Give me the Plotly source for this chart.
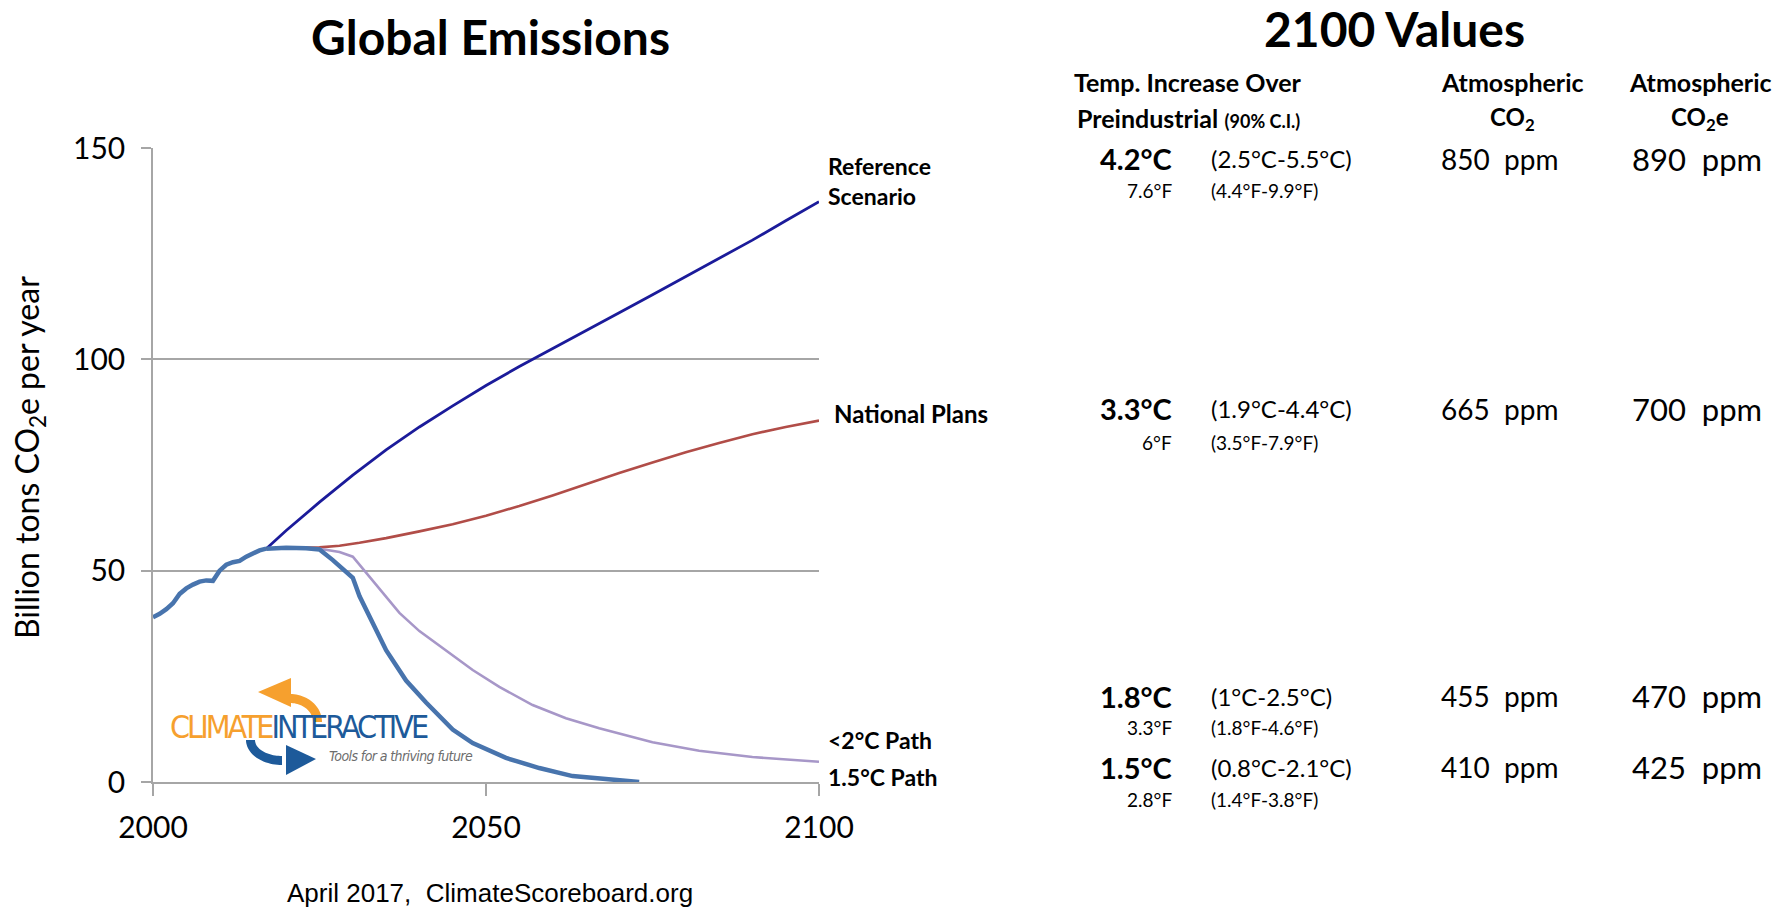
import plotly.graph_objects as go

W, H = 1782, 907

# ---------------- data ----------------
hist_years = list(range(2000, 2018))
hist_vals = [39.0, 39.8, 40.9, 42.3, 44.5, 45.8, 46.7, 47.4, 47.7, 47.6,
             50.0, 51.4, 52.0, 52.3, 53.3, 54.0, 54.8, 55.2]

ref_years = [2017, 2020, 2025, 2030, 2035, 2040, 2045, 2050, 2055, 2060,
             2065, 2070, 2075, 2080, 2085, 2090, 2095, 2100]
ref_vals = [55.2, 59.5, 66.2, 72.6, 78.6, 84.0, 89.0, 93.8, 98.3, 102.5,
            106.8, 111.0, 115.3, 119.6, 123.8, 128.2, 132.8, 137.3]

nat_years = [2017, 2020, 2025, 2028, 2031, 2035, 2040, 2045, 2050, 2055,
             2060, 2065, 2070, 2075, 2080, 2085, 2090, 2095, 2100]
nat_vals = [55.2, 55.4, 55.5, 55.9, 56.6, 57.7, 59.3, 61.0, 63.0, 65.3,
            67.8, 70.5, 73.1, 75.6, 78.0, 80.2, 82.3, 84.0, 85.5]

lt2_years = [2025, 2028, 2030, 2032, 2034, 2037, 2040, 2044, 2048, 2052,
             2057, 2062, 2067, 2075, 2082, 2090, 2100]
lt2_vals = [55.2, 54.4, 53.3, 49.5, 45.6, 40.0, 35.7, 31.2, 26.5, 22.5,
            18.2, 15.1, 12.7, 9.4, 7.4, 5.9, 4.8]

p15_years = [2017, 2020, 2023, 2025, 2027, 2029, 2030, 2031, 2033, 2035,
             2038, 2041, 2045, 2048, 2053, 2058, 2063, 2069, 2073]
p15_vals = [55.2, 55.4, 55.3, 55.0, 52.5, 49.6, 48.3, 44.0, 37.6, 31.2,
            24.0, 18.8, 12.4, 9.2, 5.7, 3.3, 1.4, 0.4, 0.0]

x_ticks = [2000, 2050, 2100]
y_ticks = [0, 50, 100, 150]

scenario_labels = ["Reference<br>Scenario", "National Plans", "<2°C Path", "1.5°C Path"]
temp_c = ["4.2°C", "3.3°C", "1.8°C", "1.5°C"]
temp_c_range = ["(2.5°C-5.5°C)", "(1.9°C-4.4°C)", "(1°C-2.5°C)", "(0.8°C-2.1°C)"]
temp_f = ["7.6°F", "6°F", "3.3°F", "2.8°F"]
temp_f_range = ["(4.4°F-9.9°F)", "(3.5°F-7.9°F)", "(1.8°F-4.6°F)", "(1.4°F-3.8°F)"]
co2_ppm = ["850 ppm", "665 ppm", "455 ppm", "410 ppm"]
co2e_ppm = ["890 ppm", "700 ppm", "470 ppm", "425 ppm"]

# ---------------- styles ----------------
C_REF = "#1b1b9a"
C_NAT = "#b14d48"
C_LT2 = "#a797c8"
C_P15 = "#4874ad"
GRID = "#a6a6a6"
FONT = "Lato, 'Open Sans', sans-serif"


def px(x):
    return x / W


def py(y):
    return 1 - y / H


fig = go.Figure()
fig.add_trace(go.Scatter(x=ref_years, y=ref_vals, mode="lines",
                         line=dict(color=C_REF, width=2.8), hoverinfo="skip"))
fig.add_trace(go.Scatter(x=nat_years, y=nat_vals, mode="lines",
                         line=dict(color=C_NAT, width=2.6), hoverinfo="skip"))
fig.add_trace(go.Scatter(x=lt2_years, y=lt2_vals, mode="lines",
                         line=dict(color=C_LT2, width=2.6), hoverinfo="skip"))
fig.add_trace(go.Scatter(x=hist_years, y=hist_vals, mode="lines",
                         line=dict(color=C_P15, width=4.5), hoverinfo="skip"))
fig.add_trace(go.Scatter(x=p15_years, y=p15_vals, mode="lines",
                         line=dict(color=C_P15, width=4.5), hoverinfo="skip"))

fig.update_layout(
    width=W, height=H, autosize=False,
    margin=dict(l=0, r=0, t=0, b=0, pad=0),
    paper_bgcolor="white", plot_bgcolor="white",
    showlegend=False,
    font=dict(family=FONT, color="black"),
    xaxis=dict(domain=[px(153), px(819)], range=[2000, 2100],
               tickvals=x_ticks, ticktext=[str(v) for v in x_ticks],
               showgrid=False, zeroline=False, automargin=False,
               showline=True, linecolor=GRID, linewidth=1.6,
               ticks="outside", ticklen=12, tickwidth=1.6, tickcolor=GRID,
               tickfont=dict(family=FONT, size=30, color="black"),
               ticklabelstandoff=6, fixedrange=True),
    yaxis=dict(domain=[py(782), py(148)], range=[0, 150],
               tickvals=y_ticks, ticktext=[str(v) for v in y_ticks],
               showgrid=True, gridcolor=GRID, gridwidth=1.6, zeroline=False,
               automargin=False,
               showline=True, linecolor=GRID, linewidth=1.6,
               ticks="outside", ticklen=10, tickwidth=1.6, tickcolor=GRID,
               tickfont=dict(family=FONT, size=30, color="black"),
               ticklabelstandoff=10, fixedrange=True),
)

ann = []


def text(x, y, s, size, xanchor="center", bold=False, color="black", family=FONT, angle=0):
    t = f"<b>{s}</b>" if bold else s
    ann.append(dict(x=px(x), y=py(y), xref="paper", yref="paper", text=t,
                    showarrow=False, xanchor=xanchor, yanchor="middle",
                    align=xanchor if xanchor in ("left", "right") else "center",
                    textangle=angle,
                    font=dict(family=family, size=size, color=color)))


# titles
text(490, 36, "Global Emissions", 48, bold=True)
text(1394, 28, "2100 Values", 48, bold=True)

# y-axis title
text(29, 458, "Billion tons CO<sub>2</sub>e per year", 32, angle=-90)

# footer
text(285, 893, "April 2017,  ClimateScoreboard.org", 26, xanchor="left",
     family="'Liberation Sans', Arial, sans-serif")

# scenario labels at right of plot
text(826, 181, scenario_labels[0], 23, xanchor="left", bold=True)
text(832, 414, scenario_labels[1], 24, xanchor="left", bold=True)
text(826, 740, scenario_labels[2].replace("<", "&lt;"), 23, xanchor="left", bold=True)
text(826, 777, scenario_labels[3], 23, xanchor="left", bold=True)

# column headers
text(1188, 82, "Temp. Increase Over", 25, bold=True)
ann.append(dict(x=px(1188), y=py(118), xref="paper", yref="paper",
                text="<b>Preindustrial</b> <b><span style='font-size:18px'>(90% C.I.)</span></b>",
                showarrow=False, xanchor="center", yanchor="middle",
                font=dict(family=FONT, size=25, color="black")))
text(1512, 82, "Atmospheric", 25, bold=True)
text(1512, 118, "CO<sub>2</sub>", 24, bold=True)
text(1700, 82, "Atmospheric", 25, bold=True)
text(1700, 118, "CO<sub>2</sub>e", 24, bold=True)

# rows
row_c_y = [159, 409, 696, 767]
row_f_y = [191, 442, 727, 799]
for i in range(4):
    text(1174, row_c_y[i], temp_c[i], 29, xanchor="right", bold=True)
    text(1209, row_c_y[i], temp_c_range[i], 24, xanchor="left")
    text(1174, row_f_y[i], temp_f[i], 19, xanchor="right")
    text(1209, row_f_y[i], temp_f_range[i], 19, xanchor="left")
    text(1439, row_c_y[i], co2_ppm[i].replace(" ", "&nbsp;&nbsp;"), 28, xanchor="left")
    text(1764, row_c_y[i], co2e_ppm[i].replace(" ", "&nbsp;&nbsp;"), 31, xanchor="right")

# logo text
NARROW = "'Liberation Sans Narrow', 'DejaVu Sans Condensed', Lato, sans-serif"
ann.append(dict(x=px(168), y=py(727), xref="paper", yref="paper",
                text="<span style='color:#f6a02e;letter-spacing:-3px'>CLIMATE</span>"
                     "<span style='color:#1d5a9a;letter-spacing:-3px'>INTERACTIVE</span>",
                showarrow=False, xanchor="left", yanchor="middle",
                font=dict(family=NARROW, size=32)))
ann.append(dict(x=px(327), y=py(756), xref="paper", yref="paper",
                text="<i><span style='letter-spacing:-0.6px'>Tools for a thriving future</span></i>",
                showarrow=False, xanchor="left", yanchor="middle",
                font=dict(family=NARROW, size=14, color="#6d6d6d")))

fig.update_layout(annotations=ann)


# logo arrows (decorative shapes)
def path(points):
    s = ""
    for i, (a, b) in enumerate(points):
        s += ("M" if i == 0 else "L") + f" {px(a):.5f},{py(b):.5f} "
    return s + "Z"


def arc_path(cx, cy, rx, ry, a0, a1, thick, n=24):
    import math
    outer = []
    inner = []
    for k in range(n + 1):
        t = math.radians(a0 + (a1 - a0) * k / n)
        outer.append((cx + rx * math.cos(t), cy - ry * math.sin(t)))
        inner.append((cx + (rx - thick) * math.cos(t), cy - (ry - thick) * math.sin(t)))
    return path(outer + inner[::-1])


shapes = []
# orange arc (upper, pointing left)
shapes.append(dict(type="path", xref="paper", yref="paper",
                   path=arc_path(290, 722, 32, 28, 0, 90, 9),
                   fillcolor="#f6a02e", line=dict(width=0), layer="below"))
shapes.append(dict(type="path", xref="paper", yref="paper",
                   path=path([(291, 678), (291, 707), (258, 692)]),
                   fillcolor="#f6a02e", line=dict(width=0), layer="below"))
# blue arc (lower, pointing right)
shapes.append(dict(type="path", xref="paper", yref="paper",
                   path=arc_path(282, 740, 36, 25, 180, 270, 9),
                   fillcolor="#1d5a9a", line=dict(width=0), layer="below"))
shapes.append(dict(type="path", xref="paper", yref="paper",
                   path=path([(286, 745), (286, 775), (316, 759)]),
                   fillcolor="#1d5a9a", line=dict(width=0), layer="below"))
fig.update_layout(shapes=shapes)

fig.write_html("out.html",
               config={"displayModeBar": False, "staticPlot": False},
               post_script="document.body.style.margin='0px';"
                           "document.body.style.overflow='hidden';")
